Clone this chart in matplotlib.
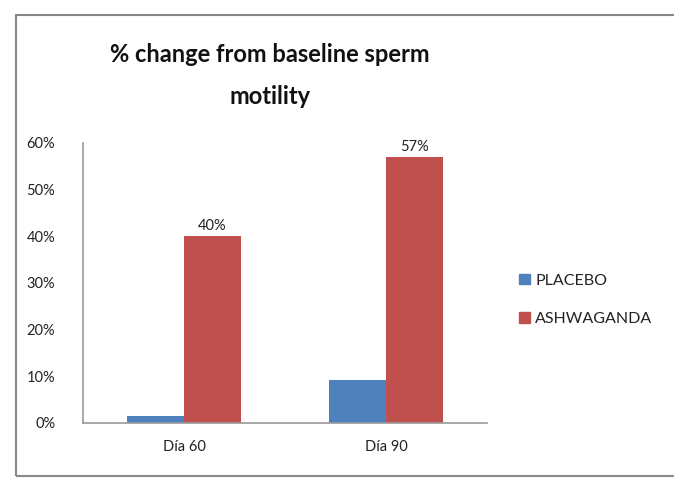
import matplotlib
matplotlib.use("Agg")
import matplotlib.pyplot as plt
from matplotlib.patches import Rectangle, Patch
import numpy as np

categories = ["Día 60", "Día 90"]
placebo = [0.015, 0.092]
ashwaganda = [0.40, 0.57]
ashwa_labels = ["40%", "57%"]
series_names = ["PLACEBO", "ASHWAGANDA"]
yticks = [0, 0.1, 0.2, 0.3, 0.4, 0.5, 0.6]
ytick_labels = ["0%", "10%", "20%", "30%", "40%", "50%", "60%"]

W, H = 674, 478
fig = plt.figure(figsize=(W / 100, H / 100), dpi=100)
plt.rcParams['font.family'] = ['Lato', 'DejaVu Sans']

# outer frame
fig.patches.append(Rectangle((16 / W, 1 - 476 / H), (700 - 16) / W, (476 - 15) / H,
                             transform=fig.transFigure, fill=False,
                             edgecolor='#888888', linewidth=1.5))

ax = fig.add_axes([83 / W, (H - 423) / H, 404 / W, 280 / H])
x = np.arange(len(categories))
w = 0.282
blue = '#4F81BD'
red = '#C0504D'
ax.bar(x - w / 2, placebo, w, color=blue, label=series_names[0])
ax.bar(x + w / 2, ashwaganda, w, color=red, label=series_names[1])

for xi, v, lab in zip(x, ashwaganda, ashwa_labels):
    ax.text(xi + w / 2, v + 0.022, lab, ha='center', va='center', fontsize=10.5, color='#222222')

ax.set_xlim(-0.5, 1.5)
ax.set_ylim(0, 0.6)
ax.set_yticks(yticks)
ax.set_yticklabels(ytick_labels, fontsize=10.5, color='#222222')
ax.set_xticks(x)
ax.set_xticklabels(categories, fontsize=10.5, color='#222222')
ax.tick_params(axis='both', length=0)
ax.tick_params(axis='y', pad=20)
ax.tick_params(axis='x', pad=12)
for s in ['top', 'right']:
    ax.spines[s].set_visible(False)
for s in ['left', 'bottom']:
    ax.spines[s].set_color('#999999')
    ax.spines[s].set_linewidth(1.2)

fig.text(270 / W, 1 - 55 / H, "% change from baseline sperm", ha='center', va='center',
         fontsize=17, fontweight='bold', color='#111111')
fig.text(270 / W, 1 - 97 / H, "motility", ha='center', va='center',
         fontsize=17, fontweight='bold', color='#111111')

handles = [Patch(color=blue), Patch(color=red)]
leg = fig.legend(handles, series_names, loc='center left',
                 bbox_to_anchor=(505 / W, 1 - 300 / H), frameon=False,
                 fontsize=11.5, handlelength=0.65, handleheight=0.65,
                 handletextpad=0.35, labelspacing=1.55)
for t in leg.get_texts():
    t.set_color('#222222')

fig.savefig("out.png", dpi=100)
